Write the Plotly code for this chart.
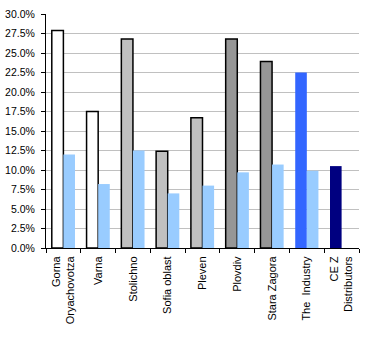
import plotly.graph_objects as go

# Categories (multi-line labels use <br>)
categories = ["Gorna<br>Oryachovotza", "Varna", "Stolichno", "Sofia oblast", "Pleven",
              "Plovdiv", "Stara Zagora", "The  Industry", "CE Z<br>Distributors"]

# Primary series (%), coloured per category
share_main = [27.9, 17.5, 26.8, 12.4, 16.7, 26.8, 23.9, 22.5, 10.5]
main_colors = ["#FFFFFF", "#FFFFFF", "#C0C0C0", "#C0C0C0", "#C0C0C0",
               "#969696", "#969696", "#3366FF", "#000080"]
main_outline = [1.5, 1.5, 1.5, 1.5, 1.5, 1.5, 1.5, 0, 0]

# Secondary series (%), none for the last category
share_second = [12.0, 8.2, 12.5, 7.0, 8.0, 9.7, 10.7, 9.9, None]

y_ticks = [i * 2.5 for i in range(13)]

fig = go.Figure()
fig.add_trace(go.Bar(
    x=categories, y=share_main,
    marker=dict(color=main_colors, line=dict(color="#000000", width=main_outline)),
    showlegend=False,
))
fig.add_trace(go.Bar(
    x=categories, y=share_second,
    marker=dict(color="#99CCFF", line=dict(width=0)),
    showlegend=False,
))

fig.update_layout(
    width=375, height=340,
    margin=dict(l=46, r=16, t=14, b=92),
    paper_bgcolor="#FFFFFF", plot_bgcolor="#FFFFFF",
    barmode="group", bargap=0.333, bargroupgap=0,
    font=dict(family="Liberation Sans, Arial, sans-serif", size=10.5, color="#000000"),
)
fig.update_yaxes(
    range=[0, 30], tickvals=y_ticks,
    ticktext=[f"{v:.1f}%" for v in y_ticks],
    showgrid=True, gridcolor="#C0C0C0", gridwidth=1,
    showline=True, linecolor="#000000", linewidth=1,
    ticks="outside", ticklen=4, tickcolor="#000000",
    ticklabelstandoff=4, automargin=False,
    zeroline=False,
)
fig.update_xaxes(
    range=[-0.5, 8.5],
    tickangle=-90, tickson="boundaries",
    tickfont=dict(size=11),
    showline=True, linecolor="#000000", linewidth=1,
    ticks="outside", ticklen=4, tickcolor="#000000",
    ticklabelstandoff=3, automargin=False,
    showgrid=False,
)

fig.write_html("out.html")
